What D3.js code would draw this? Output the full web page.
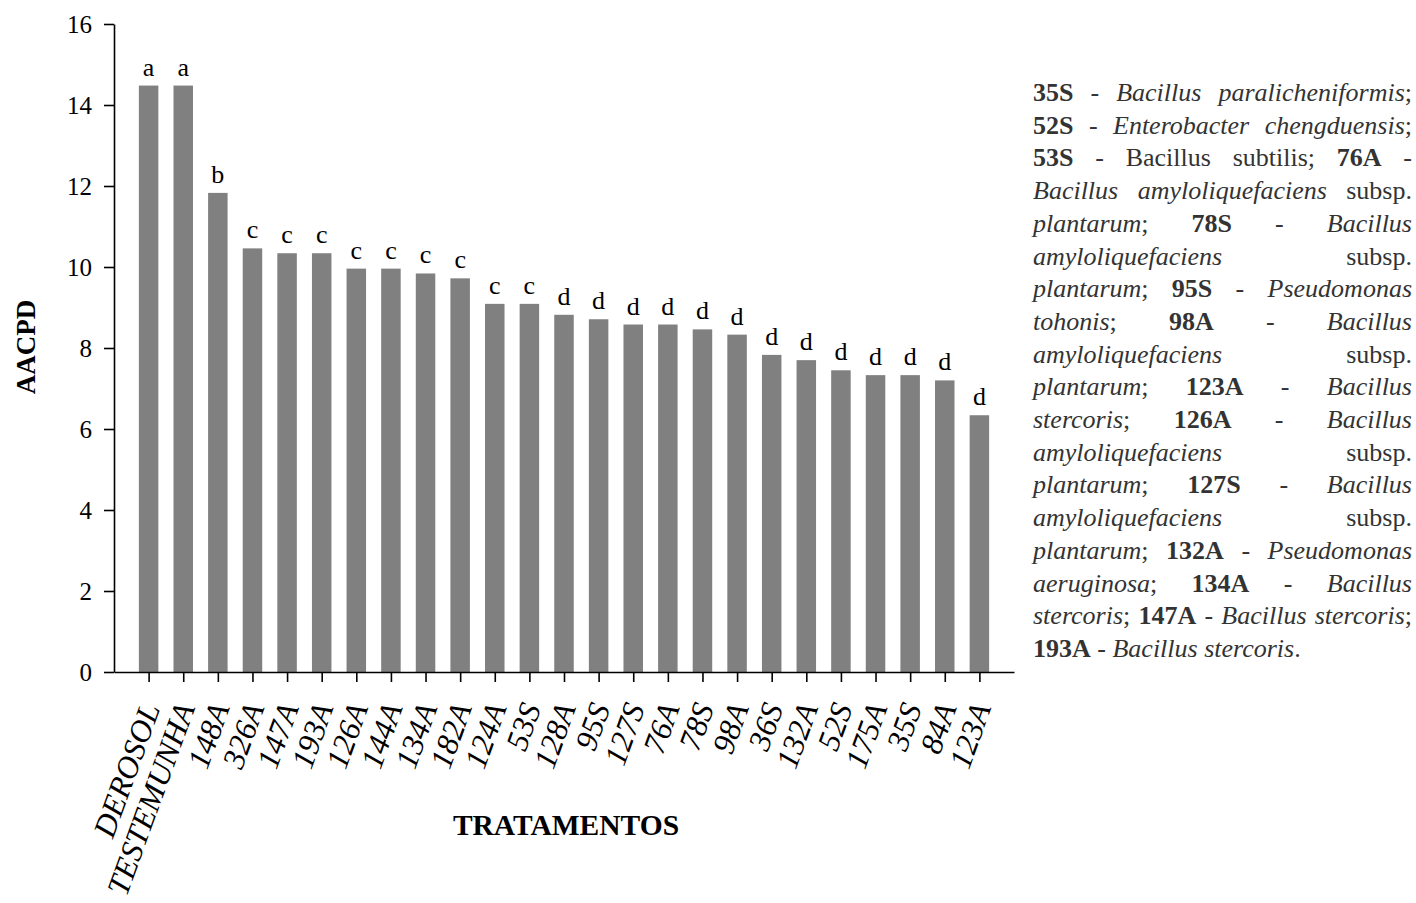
<!DOCTYPE html>
<html>
  <head>
    <meta charset="utf-8">
    <title>AACPD por tratamento</title>
    <script src="https://d3js.org/d3.v7.min.js"></script>
    <style>
      body { margin: 0; background: #fff; }
      text { font-family: "Liberation Serif", "Times New Roman", serif; }
    </style>
  </head>
<body>
  <script type="text/javascript">
    // treatments, in plotted order
    var treatments = ["DEROSOL", "TESTEMUNHA", "148A", "326A", "147A", "193A",
                      "126A", "144A", "134A", "182A", "124A", "53S", "128A",
                      "95S", "127S", "76A", "78S", "98A", "36S", "132A", "52S",
                      "175A", "35S", "84A", "123A"];
    // AACPD values
    var aacpd = [14.48, 14.48, 11.83, 10.46, 10.34, 10.34, 9.96, 9.96, 9.84,
                 9.72, 9.09, 9.09, 8.82, 8.71, 8.58, 8.58, 8.46, 8.33, 7.83,
                 7.70, 7.45, 7.33, 7.33, 7.20, 6.34];
    // Scott-Knott letters above bars
    var letters = ["a", "a", "b", "c", "c", "c", "c", "c", "c", "c", "c", "c",
                   "d", "d", "d", "d", "d", "d", "d", "d", "d", "d", "d", "d", "d"];
    var yTicks = [0, 2, 4, 6, 8, 10, 12, 14, 16];
    var yTitle = "AACPD",
        xTitle = "TRATAMENTOS";
    // side note, ** = bold, * = italic
    var noteLines = [
      "**35S** - *Bacillus paralicheniformis*;",
      "**52S** - *Enterobacter chengduensis*;",
      "**53S** - Bacillus subtilis; **76A** -",
      "*Bacillus amyloliquefaciens* subsp.",
      "*plantarum*; **78S** - *Bacillus*",
      "*amyloliquefaciens* subsp.",
      "*plantarum*; **95S** - *Pseudomonas*",
      "*tohonis*; **98A** - *Bacillus*",
      "*amyloliquefaciens* subsp.",
      "*plantarum*; **123A** - *Bacillus*",
      "*stercoris*; **126A** - *Bacillus*",
      "*amyloliquefaciens* subsp.",
      "*plantarum*; **127S** - *Bacillus*",
      "*amyloliquefaciens* subsp.",
      "*plantarum*; **132A** - *Pseudomonas*",
      "*aeruginosa*; **134A** - *Bacillus*",
      "*stercoris*; **147A** - *Bacillus stercoris*;",
      "**193A** - *Bacillus stercoris*."
    ];

    var serif = "'Liberation Serif', 'Times New Roman', serif";
    var W = 1416, H = 903;
    var svg = d3.select("body").append("svg")
        .attr("width", W)
        .attr("height", H)
        .attr("font-family", serif);
    svg.append("rect").attr("width", W).attr("height", H).attr("fill", "#fff");

    var x = d3.scalePoint().domain(treatments).range([114, 1014]).padding(1);
    var y = d3.scaleLinear().domain([0, 16]).range([672, 24]);
    var barW = 19.5;

    // bars
    svg.append("g").selectAll("rect")
      .data(treatments)
      .join("rect")
        .attr("x", function(d) { return x(d) - barW / 2; })
        .attr("y", function(d, i) { return y(aacpd[i]); })
        .attr("width", barW)
        .attr("height", function(d, i) { return y(0) - y(aacpd[i]); })
        .attr("fill", "#808080");

    // letters
    svg.append("g").selectAll("text")
      .data(treatments)
      .join("text")
        .attr("x", function(d) { return x(d); })
        .attr("y", function(d, i) { return y(aacpd[i]) - 10; })
        .attr("text-anchor", "middle")
        .attr("font-size", 26)
        .text(function(d, i) { return letters[i]; });

    // y axis
    var yAxis = svg.append("g")
        .attr("transform", "translate(114,0)")
        .call(d3.axisLeft(y).tickValues(yTicks).tickSize(10).tickSizeOuter(0).tickPadding(12))
        .attr("font-family", serif)
        .attr("font-size", 25);
    yAxis.selectAll("text").attr("fill", "#000");

    // x axis
    svg.append("g")
        .attr("transform", "translate(0,672)")
        .call(d3.axisBottom(x).tickSize(10).tickSizeOuter(0).tickFormat(""));

    svg.selectAll(".domain, .tick line")
      .attr("stroke", "#000")
      .attr("stroke-width", 1.6);

    // rotated tick labels
    svg.append("g").selectAll("text")
      .data(treatments)
      .join("text")
        .attr("transform", function(d) {
          return "translate(" + (x(d) + 12) + ",708) rotate(-70)";
        })
        .attr("text-anchor", "end")
        .attr("font-size", 31.5)
        .attr("font-style", "italic")
        .text(function(d) { return d; });

    // axis titles
    svg.append("text")
      .attr("transform", "translate(35,347) rotate(-90)")
      .attr("text-anchor", "middle")
      .attr("font-size", 27)
      .attr("font-weight", "bold")
      .text(yTitle);

    svg.append("text")
      .attr("x", 566)
      .attr("y", 835)
      .attr("text-anchor", "middle")
      .attr("font-size", 29.5)
      .attr("font-weight", "bold")
      .text(xTitle);

    /*
      side note, justified line by line
    */
    function parseLine(s) {
      var runs = [], re = /\*\*(.+?)\*\*|\*(.+?)\*|([^*]+)/g, m;
      while ((m = re.exec(s))) {
        if (m[1] !== undefined) runs.push([m[1], "b"]);
        else if (m[2] !== undefined) runs.push([m[2], "i"]);
        else runs.push([m[3], "n"]);
      }
      var words = [[]];
      runs.forEach(function(r) {
        r[0].split(/( )/).forEach(function(part) {
          if (part === " ") {
            if (words[words.length - 1].length) words.push([]);
          } else if (part) {
            words[words.length - 1].push([part, r[1]]);
          }
        });
      });
      return words.filter(function(w) { return w.length; });
    }

    var noteX0 = 1033, noteX1 = 1412, noteY0 = 101, noteStep = 32.7;
    var note = svg.append("g").attr("fill", "#333").attr("font-size", 26);

    noteLines.forEach(function(line, li) {
      var words = parseLine(line);
      var yy = noteY0 + li * noteStep;
      var nodes = words.map(function(w) {
        var t = note.append("text").attr("y", yy);
        w.forEach(function(r) {
          t.append("tspan")
            .attr("font-weight", r[1] === "b" ? "bold" : null)
            .attr("font-style", r[1] === "i" ? "italic" : null)
            .text(r[0]);
        });
        return t;
      });
      var widths = nodes.map(function(t) { return t.node().getComputedTextLength(); });
      var total = d3.sum(widths);
      var last = li === noteLines.length - 1;
      var gap = (last || nodes.length < 2) ? 26 * 0.25 : (noteX1 - noteX0 - total) / (nodes.length - 1);
      var cx = noteX0;
      nodes.forEach(function(t, k) {
        t.attr("x", cx);
        cx += widths[k] + gap;
      });
    });
  </script>
</body>
</html>
